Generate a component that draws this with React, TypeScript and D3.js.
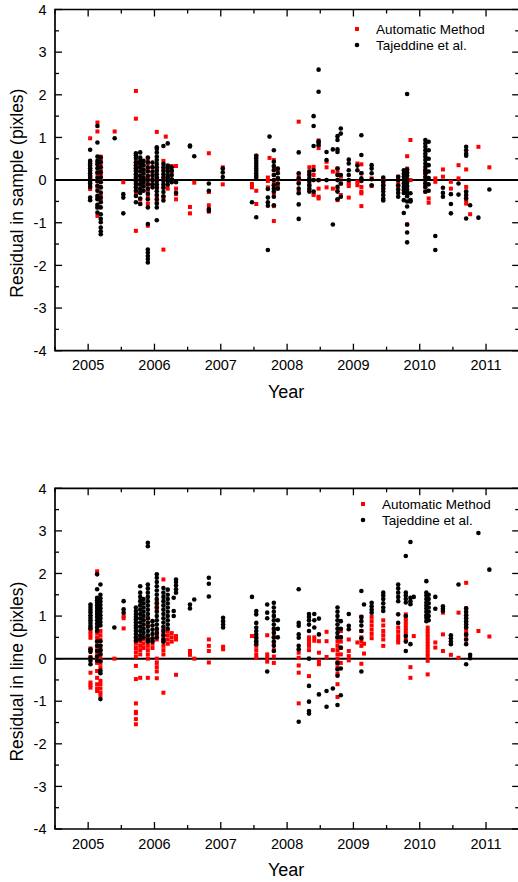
import React from "react";
import * as d3 from "d3";

type Col = [number, number[]];

const xTickYears = [2005, 2006, 2007, 2008, 2009, 2010, 2011];
const yTickValues = [-4, -3, -2, -1, 0, 1, 2, 3, 4];
const seriesNames = ["Automatic Method", "Tajeddine et al."];
const xTitle = "Year";
const yTitles = ["Residual in sample (pixles)", "Residual in line (pixles)"];

// Top panel: residual in sample — Automatic Method (red)
const autoSample: Col[] = [
  [2005.03, [0.98, 0.41, 0.26, 0.06, -0.09, -0.21]],
  [2005.14, [1.35, 1.14, 0.4, 0.15, -0.02, -0.17, -0.41, -0.64, -0.84]],
  [2005.19, [0.55, 0.45, 0.33, 0.22, 0.1, -0.02, -0.17, -0.33, -0.48]],
  [2005.4, [1.14]],
  [2005.53, [-0.05]],
  [2005.72, [2.09, 1.44, 0.45, 0.35, 0.25, 0.15, 0.05, -0.05, -0.15, -0.3, -1.19]],
  [2005.785, [0.4, 0.28, 0.1, -0.1, -0.25, -0.45, -0.55]],
  [2005.835, [0.2, 0.05, -0.12]],
  [2005.9, [0.5, 0.4, 0.25, 0.05, -0.1, -0.25, -0.4, -0.55, -1.07]],
  [2005.97, [0.3, 0.15, 0.0, -0.1]],
  [2006.035, [1.13, 0.25, 0.05, -0.17, -0.37, -0.5]],
  [2006.135, [0.45, 0.25, 0.05, -0.17, -0.4, -1.63]],
  [2006.17, [1.02]],
  [2006.2, [0.33, 0.06, -0.2]],
  [2006.26, [0.33, 0.2, 0.0]],
  [2006.325, [0.33, -0.2, -0.33, -0.45]],
  [2006.535, [-0.63, -0.78]],
  [2006.6, [-0.06]],
  [2006.82, [0.63, -0.28, -0.59, -0.74]],
  [2007.03, [0.3, -0.1]],
  [2007.47, [-0.09, -0.17]],
  [2007.535, [0.57, -0.25, -0.56]],
  [2007.71, [0.06, -0.02, -0.17]],
  [2007.735, [0.52]],
  [2007.8, [0.47, 0.31, 0.12, -0.08, -0.31, -0.61, -0.96]],
  [2007.86, [0.23, 0.04, -0.16]],
  [2008.175, [1.37, 0.08, -0.04, -0.27]],
  [2008.335, [0.3, 0.16, -0.12, -0.23]],
  [2008.4, [0.31, 0.12, -0.31, -0.35]],
  [2008.475, [0.93, 0.75, 0.0, -0.2, -0.39, -0.43]],
  [2008.595, [0.43, 0.3, -0.17]],
  [2008.69, [0.2, -0.2]],
  [2008.76, [0.27, 0.17, -0.23, -0.47]],
  [2008.81, [0.08, -0.08, -0.35]],
  [2008.93, [-0.02, -0.08, -0.14, -0.41]],
  [2009.06, [0.39, -0.04, -0.12]],
  [2009.12, [0.37, 0.16, -0.16, -0.27, -0.31, -0.61]],
  [2009.275, [0.04, -0.14]],
  [2009.45, [0.0, -0.08, -0.14]],
  [2009.675, [0.08, -0.04, -0.14]],
  [2009.81, [0.56, 0.27, 0.16, -0.16, -1.04]],
  [2009.86, [0.94, 0.0, -0.47]],
  [2010.085, [0.23, 0.16, 0.04, -0.08, -0.16, -0.27]],
  [2010.135, [-0.43, -0.53]],
  [2010.235, [0.04, -0.04]],
  [2010.35, [0.25, 0.08]],
  [2010.47, [-0.04, -0.2]],
  [2010.585, [0.35, 0.04]],
  [2010.7, [0.25, -0.16, -0.27, -0.39, -0.47, -0.55]],
  [2010.76, [-0.8]],
  [2010.885, [0.78]],
  [2011.05, [0.3]],
];

// Top panel: residual in sample — Tajeddine et al. (black)
const tajSample: Col[] = [
  [2005.03, [0.71, 0.45, 0.39, 0.34, 0.28, 0.22, 0.16, 0.1, 0.05, -0.02, -0.08, -0.16, -0.41, -0.47]],
  [2005.14, [1.27, 0.88, 0.55, 0.45, 0.37, 0.28, 0.18, 0.06, -0.02, -0.13, -0.25, -0.37, -0.45, -0.58, -0.64, -0.76]],
  [2005.19, [0.53, 0.42, 0.3, 0.18, 0.06, -0.05, -0.17, -0.29, -0.41, -0.52, -0.64, -0.8, -0.91, -0.99, -1.11, -1.2, -1.27]],
  [2005.4, [0.98]],
  [2005.53, [-0.33, -0.41, -0.78]],
  [2005.72, [0.63, 0.58, 0.52, 0.42, 0.34, 0.28, 0.22, 0.14, 0.06, -0.02, -0.09, -0.17, -0.25, -0.37, -0.52]],
  [2005.785, [0.65, 0.53, 0.45, 0.38, 0.3, 0.2, 0.1, 0.0, -0.1, -0.2, -0.3, -0.43, -0.56]],
  [2005.835, [0.45, 0.35, 0.25, 0.15, 0.05, -0.05, -0.15, -0.25]],
  [2005.9, [0.53, 0.42, 0.3, 0.2, 0.1, 0.0, -0.1, -0.2, -0.32, -0.45, -0.64, -1.03, -1.63, -1.7, -1.78, -1.85, -1.93]],
  [2005.97, [0.41, 0.3, 0.2, 0.1, 0.0, -0.1, -0.17]],
  [2006.035, [0.77, 0.73, 0.65, 0.55, 0.47, 0.38, 0.3, 0.22, 0.14, 0.06, -0.02, -0.1, -0.18, -0.26, -0.35, -0.45, -0.55, -0.64, -0.94]],
  [2006.135, [0.8, 0.38, 0.3, 0.22, 0.14, 0.06, -0.02, -0.1, -0.18, -0.28, -0.38, -0.48]],
  [2006.2, [0.86, 0.34, 0.28, 0.2, 0.12, 0.06, -0.02, -0.11]],
  [2006.26, [0.3, 0.22, 0.12, 0.02, -0.05]],
  [2006.325, [-0.05, -0.3]],
  [2006.535, [0.81, 0.79]],
  [2006.6, [0.56]],
  [2006.82, [-0.08, -0.25, -0.68, -0.72]],
  [2007.03, [0.27, 0.18, 0.07]],
  [2007.47, [-0.52]],
  [2007.535, [0.57, 0.51, 0.45, 0.39, 0.33, 0.27, 0.22, 0.16, 0.1, 0.06, -0.87]],
  [2007.71, [-0.21, -0.41, -0.52, -0.6, -1.64]],
  [2007.735, [1.02]],
  [2007.8, [0.7, 0.43, 0.33, 0.23, 0.12, 0.0, -0.12, -0.2, -0.27, -0.39, -0.59]],
  [2007.86, [0.27, 0.16, 0.04, -0.08, -0.2]],
  [2008.175, [0.65, 0.16, 0.04, -0.08, -0.2, -0.31, -0.57, -0.91]],
  [2008.335, [0.2, 0.12, 0.04, -0.04, -0.12, -0.2, -0.27]],
  [2008.4, [1.5, 1.27, 0.8, 0.23, 0.0, -0.27]],
  [2008.475, [2.59, 2.07, 0.91, 0.87, 0.82, 0.0]],
  [2008.595, [0.66, 0.47, 0.0]],
  [2008.69, [0.72, -1.04]],
  [2008.76, [1.03, 0.94, 0.72, 0.66, 0.27, 0.12, 0.0, -0.16, -0.27, -0.45]],
  [2008.81, [1.21, 1.09, 0.12, -0.08, -0.39]],
  [2008.93, [0.48, 0.39, 0.23, 0.12, 0.0]],
  [2009.06, [0.34, 0.23]],
  [2009.12, [1.05, 0.59, 0.16, 0.04, -0.02]],
  [2009.275, [0.35, 0.27, 0.16, 0.02, -0.12]],
  [2009.45, [0.06, -0.04, -0.12, -0.2, -0.27, -0.35, -0.43, -0.48]],
  [2009.675, [0.08, 0.0, -0.12, -0.22, -0.3, -0.39]],
  [2009.76, [0.23, 0.15, 0.08, 0.0, -0.08, -0.16, -0.23, -0.3, -0.47, -0.77]],
  [2009.81, [2.02, 0.25, 0.18, 0.1, 0.02, -0.06, -0.14, -0.22, -0.3, -0.38, -0.5, -0.62, -1.04, -1.23, -1.46]],
  [2009.86, [-0.31, -0.47, -0.5]],
  [2010.085, [0.94, 0.86, 0.78, 0.7, 0.62, 0.55, 0.47, 0.39, 0.31, 0.23, 0.16, 0.08, 0.0, -0.08, -0.16, -0.27]],
  [2010.135, [0.9, 0.7, 0.5, 0.35, 0.2, 0.05, -0.1, -0.25]],
  [2010.235, [-1.31, -1.64]],
  [2010.35, [-0.18, -0.3, -0.39]],
  [2010.47, [-0.33, -0.56, -0.78]],
  [2010.585, [-0.08, -0.34]],
  [2010.7, [0.78, 0.7, 0.62, 0.57, -0.27, -0.35, -0.43, -0.9]],
  [2010.76, [-0.59]],
  [2010.885, [-0.88]],
  [2011.05, [-0.22]],
];

// Bottom panel: residual in line — Automatic Method (red)
const autoLine: Col[] = [
  [2005.035, [0.71, 0.64, 0.57, 0.49, 0.24, 0.2, 0.04, -0.33, -0.56, -0.62, -0.68]],
  [2005.135, [2.05, 1.08, 0.71, 0.6, 0.5, 0.4, 0.3, 0.2, 0.1, 0.0, -0.1, -0.29, -0.45, -0.6, -0.7, -0.76]],
  [2005.185, [0.65, 0.55, 0.45, 0.3, 0.2, 0.1, 0.0, -0.1, -0.2, -0.52, -0.6, -0.7, -0.8, -0.87]],
  [2005.395, [0.0]],
  [2005.535, [1.0, 0.95, 0.71]],
  [2005.72, [0.45, 0.35, 0.25, 0.15, 0.05, -0.17, -0.48, -1.05, -1.25, -1.28, -1.42, -1.54]],
  [2005.785, [0.5, 0.4, 0.3, 0.2, 0.1, -0.45]],
  [2005.835, [0.45, 0.35, 0.25]],
  [2005.9, [0.95, 0.8, 0.5, 0.4, 0.3, 0.2, 0.1, 0.0, -0.45]],
  [2005.97, [0.45, 0.35, 0.25]],
  [2006.035, [1.35, 1.25, 1.15, 0.65, 0.55, 0.45, 0.0, -0.1, -0.2, -0.3, -0.46]],
  [2006.135, [1.86, 0.7, 0.6, 0.5, 0.4, 0.3, 0.2, 0.1, -0.8]],
  [2006.2, [0.65, 0.55, 0.45, 0.35]],
  [2006.26, [0.6, 0.5, 0.4]],
  [2006.325, [0.53, 0.45, -0.38]],
  [2006.535, [0.18, 0.09]],
  [2006.6, [0.0]],
  [2006.82, [0.45, 0.3, 0.18, -0.09]],
  [2007.035, [0.28, 0.22]],
  [2007.47, [0.53]],
  [2007.535, [0.49, 0.4, 0.3, 0.2, 0.1, 0.02]],
  [2007.7, [0.55, 0.1, 0.02, -0.07]],
  [2007.8, [1.0, 0.65, 0.5, 0.35, 0.2, 0.05, -0.1]],
  [2008.175, [0.14, 0.02, -0.16, -0.33, -1.05]],
  [2008.33, [0.5, 0.45, 0.4, 0.35, 0.3, 0.2, -0.41]],
  [2008.41, [0.5, 0.42]],
  [2008.48, [0.41, 0.14, -0.05, -0.13]],
  [2008.595, [0.63, 0.41, 0.04]],
  [2008.69, [0.2]],
  [2008.76, [0.5, 0.4, 0.3, 0.2, 0.1, 0.0, -0.1, -0.2, -0.35, -0.6, -0.9]],
  [2008.81, [0.65, 0.5, 0.4, 0.25, 0.1, -0.1]],
  [2008.93, [0.45, 0.18, 0.06, -0.04]],
  [2009.06, [0.38]],
  [2009.12, [0.98, 0.65, 0.5, 0.4, 0.3, -0.12]],
  [2009.16, [0.35, 0.12]],
  [2009.275, [0.98, 0.88, 0.78, 0.68, 0.58, 0.48]],
  [2009.45, [0.9, 0.78, 0.65, 0.55, 0.45, 0.3]],
  [2009.675, [0.73, 0.63, 0.53, 0.45, 0.38]],
  [2009.79, [1.04, 0.95, 0.88, 0.8, 0.72, 0.65, 0.57, 0.45]],
  [2009.86, [-0.2, -0.45]],
  [2009.91, [0.53]],
  [2010.12, [0.73, 0.65, 0.57, 0.5, 0.42, 0.35, 0.28, 0.2, 0.12, 0.05, -0.05, -0.37]],
  [2010.235, [0.38, 0.26]],
  [2010.35, [1.08, 0.57, 0.18]],
  [2010.47, [0.09]],
  [2010.585, [1.08, 0.02]],
  [2010.7, [1.78, 1.18, 1.05, 0.95, 0.85, 0.75, 0.65, 0.55, 0.45]],
  [2010.76, [0.02]],
  [2010.885, [0.65]],
  [2011.05, [0.52]],
];

// Bottom panel: residual in line — Tajeddine et al. (black)
const tajLine: Col[] = [
  [2005.035, [1.27, 1.21, 1.15, 1.09, 1.02, 0.96, 0.9, 0.84, 0.77, 0.71, 0.22, 0.16, 0.02, -0.05, -0.13]],
  [2005.135, [1.98, 1.63, 1.43, 1.37, 1.31, 1.25, 1.19, 1.12, 1.05, 0.98, 0.9, 0.82, 0.74, 0.65, 0.41, 0.3, 0.18, 0.05, -0.05]],
  [2005.185, [1.74, 1.5, 1.42, 1.34, 1.26, 1.18, 1.1, 1.02, 0.94, 0.86, 0.78, 0.41, 0.3, 0.2, 0.1, -0.06, -0.28, -0.34, -0.95]],
  [2005.395, [0.73]],
  [2005.535, [1.35, 1.16, 1.08]],
  [2005.72, [1.2, 1.12, 1.05, 0.98, 0.92, 0.85, 0.78, 0.72, 0.65, 0.58, 0.5, 0.42]],
  [2005.785, [1.7, 1.55, 1.45, 1.35, 1.25, 1.15, 1.05, 0.95, 0.85, 0.75, 0.65, 0.55, 0.45]],
  [2005.835, [1.4, 1.3, 1.2, 1.1, 1.0, 0.9, 0.8, 0.7, 0.6, 0.5]],
  [2005.9, [2.72, 2.64, 1.74, 1.65, 1.55, 1.45, 1.35, 1.25, 1.15, 1.05, 0.95, 0.85, 0.75, 0.65, 0.55, 0.45, 0.4]],
  [2005.97, [0.88, 0.78, 0.68, 0.58, 0.48, 0.4]],
  [2006.035, [1.98, 1.9, 1.8, 1.7, 1.6, 1.5, 1.4, 1.3, 1.2, 1.1, 1.0, 0.9, 0.8, 0.7, 0.6, 0.5]],
  [2006.135, [1.66, 1.55, 1.45, 1.35, 1.25, 1.15, 1.05, 0.95, 0.85, 0.75, 0.65, 0.55, 0.45, 0.4]],
  [2006.2, [1.62, 1.5, 1.4, 1.3, 1.2, 1.1, 1.0, 0.9, 0.8, 0.7]],
  [2006.29, [1.43, 1.12, 1.0]],
  [2006.325, [1.86, 1.8, 1.72, 1.63, 1.55]],
  [2006.535, [1.27, 1.18]],
  [2006.6, [1.39]],
  [2006.82, [1.9, 1.76, 1.46]],
  [2007.035, [0.96, 0.88, 0.8, 0.73]],
  [2007.47, [1.45]],
  [2007.535, [1.12, 1.04, 0.84, 0.73, 0.65, 0.57, 0.49, 0.41, 0.34]],
  [2007.7, [1.27, 1.08, 0.95, -0.3]],
  [2007.8, [1.31, 1.2, 1.1, 1.0, 0.9, 0.8, 0.7, 0.6, 0.5, 0.4, 0.3, 0.18]],
  [2007.86, [0.9, 0.7, 0.5]],
  [2008.175, [1.63, 0.84, 0.77, 0.57, 0.49, 0.3, 0.22, -1.48]],
  [2008.33, [1.05, 0.98, 0.9, 0.8, 0.65, 0.0, -0.64, -1.01, -1.23, -1.29]],
  [2008.41, [1.05, 0.9, 0.73]],
  [2008.48, [0.94, 0.57, -0.84]],
  [2008.595, [-0.76, -1.13]],
  [2008.69, [-0.7]],
  [2008.76, [1.2, 1.1, 1.0, 0.9, 0.8, 0.7, 0.6, 0.5, -0.1, -0.25, -0.4, -1.09]],
  [2008.81, [0.88, 0.7, 0.5, 0.26, -0.23, -0.86]],
  [2008.93, [1.05, 0.77, 0.69]],
  [2009.12, [1.59, 0.98, 0.88, 0.78, 0.65, 0.48, -0.3]],
  [2009.16, [1.27]],
  [2009.275, [1.31, 1.23, 1.15, 1.08]],
  [2009.45, [1.55, 1.48, 1.4, 1.3, 1.2, 1.12]],
  [2009.675, [1.74, 1.65, 1.55, 1.45, 1.35, 1.04, 0.84]],
  [2009.79, [2.41, 1.55, 1.48, 1.4, 1.32, 1.0, 0.53, 0.4, 0.18]],
  [2009.86, [2.74, 1.43, 1.35, 1.28, 0.34]],
  [2009.91, [1.45]],
  [2010.1, [1.82, 1.55, 1.48, 1.4, 1.32, 1.25, 1.18, 1.1, 1.02, 0.96, 0.88]],
  [2010.135, [1.5, 1.4, 1.3, 1.2, 1.1, 1.0, 0.9]],
  [2010.235, [1.45, 1.17]],
  [2010.35, [1.23, 1.17, 1.12]],
  [2010.47, [0.55, 0.48, 0.4, 0.34]],
  [2010.585, [1.74]],
  [2010.7, [1.18, 1.1, 1.02, 0.95, 0.87, 0.8, 0.73, 0.57, 0.45, 0.34, -0.13]],
  [2010.76, [0.09, 0.01]],
  [2010.885, [2.95]],
  [2011.05, [2.09]],
];

const FONT = "'Liberation Sans', Arial, Helvetica, sans-serif";
const W = 518;
const H = 882;
const xDomain: [number, number] = [2004.5, 2011.5];
const yDomain: [number, number] = [-4, 4];

function flatten(cols: Col[]) {
  const out: { x: number; y: number }[] = [];
  cols.forEach(([yr, vals]) => vals.forEach((v) => out.push({ x: yr, y: v })));
  return out;
}

type PanelProps = {
  top: number;
  bottom: number;
  yTitle: string;
  auto: Col[];
  taj: Col[];
  legendMarkerX: number;
  legendTextX: number;
  legendY: number;
};

function Panel({ top, bottom, yTitle, auto, taj, legendMarkerX, legendTextX, legendY }: PanelProps) {
  const left = 55;
  const right = 519.2;
  const x = d3.scaleLinear().domain(xDomain).range([left, right]);
  const y = d3.scaleLinear().domain(yDomain).range([bottom, top]);
  const xMinor = x.ticks(14);
  const yMinor = y.ticks(16);
  const autoPts = flatten(auto);
  const tajPts = flatten(taj);
  const isMajor = (v: number) => Math.abs(v - Math.round(v)) < 1e-6;
  const majorLen = 7;
  const minorLen = 4;
  const sq = 4;
  return (
    <g>
      {/* zero line */}
      <line x1={left} x2={right} y1={y(0)} y2={y(0)} stroke="#000" strokeWidth={2} />
      {/* points */}
      {autoPts.map((p, i) => (
        <rect key={"a" + i} x={x(p.x) - sq / 2} y={y(p.y) - sq / 2} width={sq} height={sq} fill="#ff0000" />
      ))}
      {tajPts.map((p, i) => (
        <circle key={"t" + i} cx={x(p.x)} cy={y(p.y)} r={2.3} fill="#000" />
      ))}
      {/* frame */}
      <path
        d={`M${right},${top}H${left}V${bottom}H${right}`}
        fill="none"
        stroke="#000"
        strokeWidth={1.7}
      />
      <line x1={right} x2={right} y1={top} y2={bottom} stroke="#000" strokeWidth={1.7} />
      {/* x ticks */}
      {xMinor.map((t) => {
        const len = isMajor(t) ? majorLen : minorLen;
        const px = x(t);
        return (
          <g key={"xt" + t}>
            <line x1={px} x2={px} y1={bottom} y2={bottom - len} stroke="#000" strokeWidth={1.3} />
            <line x1={px} x2={px} y1={top} y2={top + len} stroke="#000" strokeWidth={1.3} />
          </g>
        );
      })}
      {/* y ticks */}
      {yMinor.map((t) => {
        const len = isMajor(t) ? majorLen : minorLen;
        const py = y(t);
        return (
          <g key={"yt" + t}>
            <line x1={left} x2={left + len} y1={py} y2={py} stroke="#000" strokeWidth={1.3} />
            <line x1={right} x2={right - len} y1={py} y2={py} stroke="#000" strokeWidth={1.3} />
          </g>
        );
      })}
      {/* x tick labels */}
      {xTickYears.map((t) => (
        <text
          key={"xl" + t}
          x={x(t)}
          y={bottom + 19.5}
          textAnchor="middle"
          fontFamily={FONT}
          fontSize={14.5}
          fill="#000"
        >
          {String(t)}
        </text>
      ))}
      {/* y tick labels */}
      {yTickValues.map((t) => (
        <text
          key={"yl" + t}
          x={46.5}
          y={y(t) + 5.2}
          textAnchor="end"
          fontFamily={FONT}
          fontSize={14.5}
          fill="#000"
        >
          {String(t)}
        </text>
      ))}
      {/* axis titles */}
      <text
        x={(left + right) / 2 - 1}
        y={bottom + 47}
        textAnchor="middle"
        fontFamily={FONT}
        fontSize={18}
        fill="#000"
      >
        {xTitle}
      </text>
      <text
        transform={`translate(22.5, ${(top + bottom) / 2 + 13}) rotate(-90)`}
        textAnchor="middle"
        fontFamily={FONT}
        fontSize={17.5}
        fill="#000"
      >
        {yTitle}
      </text>
      {/* legend */}
      <rect x={legendMarkerX - sq / 2} y={legendY - sq / 2} width={sq} height={sq} fill="#ff0000" />
      <text x={legendTextX} y={legendY + 4.8} fontFamily={FONT} fontSize={13.5} fill="#000">
        {seriesNames[0]}
      </text>
      <circle cx={legendMarkerX} cy={legendY + 16} r={2.3} fill="#000" />
      <text x={legendTextX} y={legendY + 20.5} fontFamily={FONT} fontSize={13.5} fill="#000">
        {seriesNames[1]}
      </text>
    </g>
  );
}

export default function App() {
  return (
    <svg
      width={W}
      height={H}
      viewBox={`0 0 ${W} ${H}`}
      style={{ position: "absolute", left: 0, top: 0, background: "#fff" }}
    >
      <rect x={0} y={0} width={W} height={H} fill="#fff" />
      <Panel
        top={9.5}
        bottom={350.7}
        yTitle={yTitles[0]}
        auto={autoSample}
        taj={tajSample}
        legendMarkerX={357}
        legendTextX={376}
        legendY={29}
      />
      <Panel
        top={488.3}
        bottom={829}
        yTitle={yTitles[1]}
        auto={autoLine}
        taj={tajLine}
        legendMarkerX={363}
        legendTextX={382}
        legendY={504}
      />
    </svg>
  );
}
